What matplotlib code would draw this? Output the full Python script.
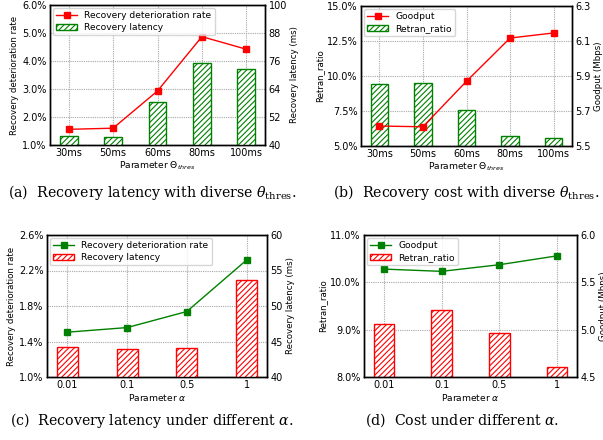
import matplotlib.pyplot as plt
from matplotlib.ticker import FuncFormatter

# data
thres_labels = ["30ms", "50ms", "60ms", "80ms", "100ms"]
alpha_labels = ["0.01", "0.1", "0.5", "1"]

a_deter_rate = [1.56, 1.60, 2.93, 4.87, 4.42]      # %
a_latency = [43.9, 43.4, 58.3, 75.1, 72.4]         # ms

b_retran = [9.45, 9.5, 7.6, 5.69, 5.55]            # %
b_goodput = [5.614, 5.61, 5.87, 6.117, 6.146]      # Mbps

c_deter_rate = [1.505, 1.557, 1.738, 2.318]        # %
c_latency = [44.2, 43.9, 44.1, 53.7]               # ms

d_retran = [9.13, 9.42, 8.92, 8.22]                # %
d_goodput = [5.64, 5.616, 5.686, 5.78]             # Mbps

RED = "#ff0000"
GREEN = "#008000"
TICK = 7
LAB = 6.2

plt.rcParams["hatch.linewidth"] = 0.8


def pct(dec):
    return FuncFormatter(lambda v, _: f"{v:.{dec}f}%")


def style(ax):
    for s in ax.spines.values():
        s.set_linewidth(1.0)
    ax.tick_params(labelsize=TICK, length=0, pad=2.5)


def panel(rect, labels, line_vals, bar_vals, line_on_left, line_color, bar_color,
          left_lim, left_ticks, left_dec, right_lim, right_ticks, right_fmt,
          left_label, right_label, xlabel, line_name, bar_name, width):
    ax = fig.add_axes(rect)
    tw = ax.twinx()
    x = list(range(len(labels)))
    line_ax, bar_ax = (ax, tw) if line_on_left else (tw, ax)

    bars = bar_ax.bar(x, bar_vals, width, color="white", edgecolor=bar_color,
                      hatch="//////", linewidth=1.0, zorder=2)
    ln, = line_ax.plot(x, line_vals, color=line_color, marker="s", markersize=4,
                       linewidth=1.0, zorder=3)

    ax.set_axisbelow(True)
    ax.grid(True, linestyle=(0, (1, 1)), color="#a8a8a8", linewidth=0.8)
    ax.set_xticks(x)
    ax.set_xticklabels(labels)
    ax.set_ylim(*left_lim)
    ax.set_yticks(left_ticks)
    ax.yaxis.set_major_formatter(pct(left_dec))
    tw.set_ylim(*right_lim)
    tw.set_yticks(right_ticks)
    tw.yaxis.set_major_formatter(FuncFormatter(right_fmt))
    ax.set_ylabel(left_label, fontsize=LAB, labelpad=2)
    tw.set_ylabel(right_label, fontsize=LAB, labelpad=2)
    ax.set_xlabel(xlabel, fontsize=6.6, labelpad=1)
    style(ax)
    style(tw)
    tw.legend([ln, bars], [line_name, bar_name], loc="upper left",
              fontsize=6.6, borderaxespad=0.3, handlelength=2.3,
              borderpad=0.35, labelspacing=0.35)
    return ax


fig = plt.figure(figsize=(6.03, 4.40), dpi=100)
W, H = 603, 440


def rect(l, r, t, b):
    return [l / W, 1 - b / H, (r - l) / W, (b - t) / H]


panel(rect(50, 265, 5, 145), thres_labels, a_deter_rate, a_latency, True, RED, GREEN,
      (1.0, 6.0), [1, 2, 3, 4, 5, 6], 1, (40, 100), [40, 52, 64, 76, 88, 100],
      lambda v, _: f"{v:.0f}", "Recovery deterioration rate", "Recovery latency (ms)",
      r"Parameter $\Theta_{thres}$", "Recovery deterioration rate", "Recovery latency", 0.4)

panel(rect(361, 572, 6, 146), thres_labels, b_goodput, b_retran, False, RED, GREEN,
      (5.0, 15.0), [5, 7.5, 10, 12.5, 15], 1, (5.5, 6.3), [5.5, 5.7, 5.9, 6.1, 6.3],
      lambda v, _: f"{v:.1f}", "Retran_ratio", "Goodput (Mbps)",
      r"Parameter $\Theta_{thres}$", "Goodput", "Retran_ratio", 0.4)

panel(rect(47, 267, 235, 377), alpha_labels, c_deter_rate, c_latency, True, GREEN, RED,
      (1.0, 2.6), [1.0, 1.4, 1.8, 2.2, 2.6], 1, (40, 60), [40, 45, 50, 55, 60],
      lambda v, _: f"{v:.0f}", "Recovery deterioration rate", "Recovery latency (ms)",
      r"Parameter $\alpha$", "Recovery deterioration rate", "Recovery latency", 0.35)

panel(rect(364, 577, 235, 377), alpha_labels, d_goodput, d_retran, False, GREEN, RED,
      (8.0, 11.0), [8, 9, 10, 11], 1, (4.5, 6.0), [4.5, 5.0, 5.5, 6.0],
      lambda v, _: f"{v:.1f}", "Retran_ratio", "Goodput (Mbps)",
      r"Parameter $\alpha$", "Goodput", "Retran_ratio", 0.35)

# sub-figure captions
cap = dict(fontsize=10.2, family="DejaVu Serif", math_fontfamily="dejavuserif",
           ha="center", va="center")
fig.text(152 / W, 1 - 192 / H, r"(a)  Recovery latency with diverse $\theta_{\mathrm{thres}}$.", **cap)
fig.text(466 / W, 1 - 192 / H, r"(b)  Recovery cost with diverse $\theta_{\mathrm{thres}}$.", **cap)
fig.text(152 / W, 1 - 420 / H, r"(c)  Recovery latency under different $\alpha$.", **cap)
fig.text(462 / W, 1 - 420 / H, r"(d)  Cost under different $\alpha$.", **cap)

fig.savefig("out.png", dpi=100)
plt.close(fig)
